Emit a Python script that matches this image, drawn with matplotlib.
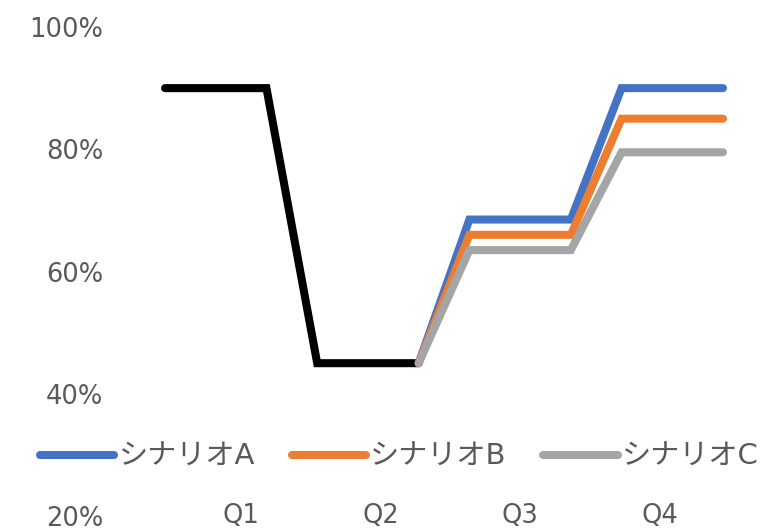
import matplotlib
matplotlib.use('Agg')
import matplotlib.pyplot as plt

plt.rcParams['font.family'] = ['DejaVu Sans', 'Noto Sans CJK JP']

# monthly index, 0..11
actual_x = [0, 1, 2, 3, 4, 5]
actual = [90, 90, 90, 45, 45, 45]

scen_x = [5, 6, 7, 8, 9, 10, 11]
scen_a = [45, 68.5, 68.5, 68.5, 90, 90, 90]
scen_b = [45, 66, 66, 66, 85, 85, 85]
scen_c = [45, 63.5, 63.5, 63.5, 79.5, 79.5, 79.5]

quarters = ['Q1', 'Q2', 'Q3', 'Q4']
quarter_pos = [1.5, 4.25, 7.0, 9.75]
y_ticks = [20, 40, 60, 80, 100]

text_color = '#595959'
W, H = 784, 531

fig = plt.figure(figsize=(W / 100, H / 100), dpi=100)
top_px, bot_px = 27, 516
ax = fig.add_axes([110 / W, (H - bot_px) / H, 674 / W, (bot_px - top_px) / H])

lw = 5.8
ax.plot(actual_x, actual, color='black', lw=lw, solid_capstyle='round', solid_joinstyle='miter')
ax.plot(scen_x, scen_a, color='#4472C4', lw=lw, solid_capstyle='round', solid_joinstyle='miter', label='シナリオA')
ax.plot(scen_x, scen_b, color='#ED7D31', lw=lw, solid_capstyle='round', solid_joinstyle='miter', label='シナリオB')
ax.plot(scen_x, scen_c, color='#A5A5A5', lw=lw, solid_capstyle='round', solid_joinstyle='miter', label='シナリオC')

unit = 50.73
ax.set_xlim((110 - 165) / unit, (784 - 165) / unit)
ax.set_ylim(20, 100)

ax.set_yticks(y_ticks)
ax.set_yticklabels([f'{v}%' for v in y_ticks])
ax.set_xticks(quarter_pos)
ax.set_xticklabels(quarters)
ax.tick_params(axis='both', length=0, labelsize=18.5, labelcolor=text_color)
ax.tick_params(axis='y', pad=5)
ax.tick_params(axis='x', pad=0)
for lab in ax.get_xticklabels():
    lab.set_va('center')

for s in ax.spines.values():
    s.set_visible(False)

fig.legend(loc='center left', bbox_to_anchor=(40 / W, 1 - 457 / H), ncol=3,
           frameon=False, fontsize=21, labelcolor=text_color,
           handlelength=2.55, handletextpad=0.15, columnspacing=1.25,
           borderpad=0, borderaxespad=0)

fig.savefig('out.png', dpi=100)
